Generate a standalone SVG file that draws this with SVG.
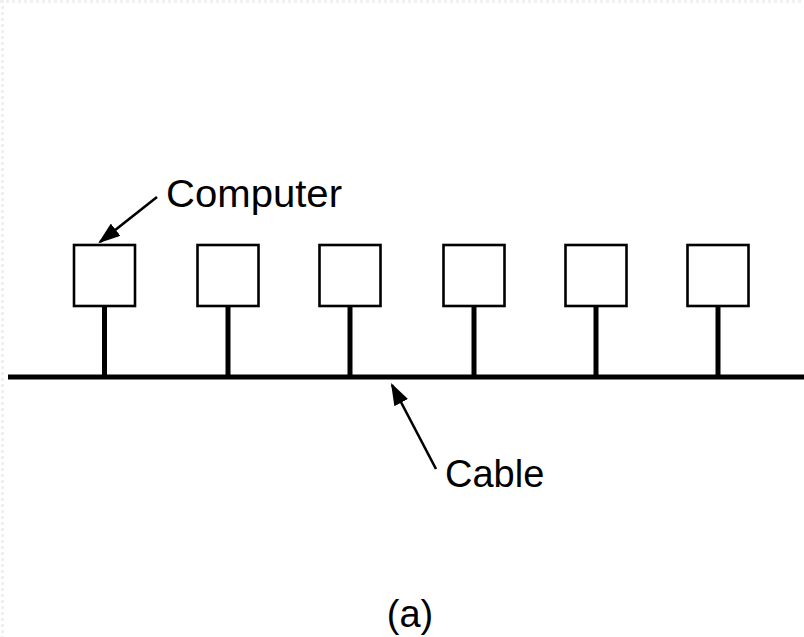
<svg xmlns="http://www.w3.org/2000/svg" width="804" height="637" viewBox="0 0 804 637">
<style>
.box{fill:#fff;stroke:#000;stroke-width:2.6}
.stem{stroke:#000;stroke-width:5}
.lbl{font-family:"Liberation Sans",Arial,sans-serif;font-size:38px;fill:#000}
.arr{stroke:#000;stroke-width:2.6;fill:none}
</style>
<defs>
<marker id="ah" viewBox="0 0 10 7" refX="9" refY="3.5" markerWidth="8.5" markerHeight="5.95" markerUnits="strokeWidth" orient="auto">
<path d="M0,0 L10,3.5 L0,7 z" fill="#000"/>
</marker>
</defs>
<rect width="804" height="637" fill="#fff"/>
<path d="M0,1.5 H804 M2.5,0 V637" stroke="#f0f0f0" stroke-width="3" stroke-dasharray="3,3" fill="none"/>
<g id="cable">
<line x1="8" y1="377" x2="804" y2="377" class="stem"/>
</g>
<g id="computer1"><line x1="104.5" y1="306" x2="104.5" y2="377" class="stem"/><rect x="74" y="245" width="61" height="61" class="box"/></g>
<g id="computer2"><line x1="228" y1="306" x2="228" y2="377" class="stem"/><rect x="197.5" y="245" width="61" height="61" class="box"/></g>
<g id="computer3"><line x1="350" y1="306" x2="350" y2="377" class="stem"/><rect x="319.5" y="245" width="61" height="61" class="box"/></g>
<g id="computer4"><line x1="474" y1="306" x2="474" y2="377" class="stem"/><rect x="443.5" y="245" width="61" height="61" class="box"/></g>
<g id="computer5"><line x1="596" y1="306" x2="596" y2="377" class="stem"/><rect x="565.5" y="245" width="61" height="61" class="box"/></g>
<g id="computer6"><line x1="718" y1="306" x2="718" y2="377" class="stem"/><rect x="687.5" y="245" width="61" height="61" class="box"/></g>
<g id="connectors">
<line x1="157" y1="197" x2="100" y2="242" class="arr" marker-end="url(#ah)"/>
<line x1="436" y1="469" x2="392" y2="385" class="arr" marker-end="url(#ah)"/>
</g>
<g id="labels">
<text x="166" y="207" class="lbl" textLength="176" lengthAdjust="spacingAndGlyphs">Computer</text>
<text x="445" y="487" class="lbl">Cable</text>
<text x="410" y="627" class="lbl" text-anchor="middle">(a)</text>
</g>
</svg>
